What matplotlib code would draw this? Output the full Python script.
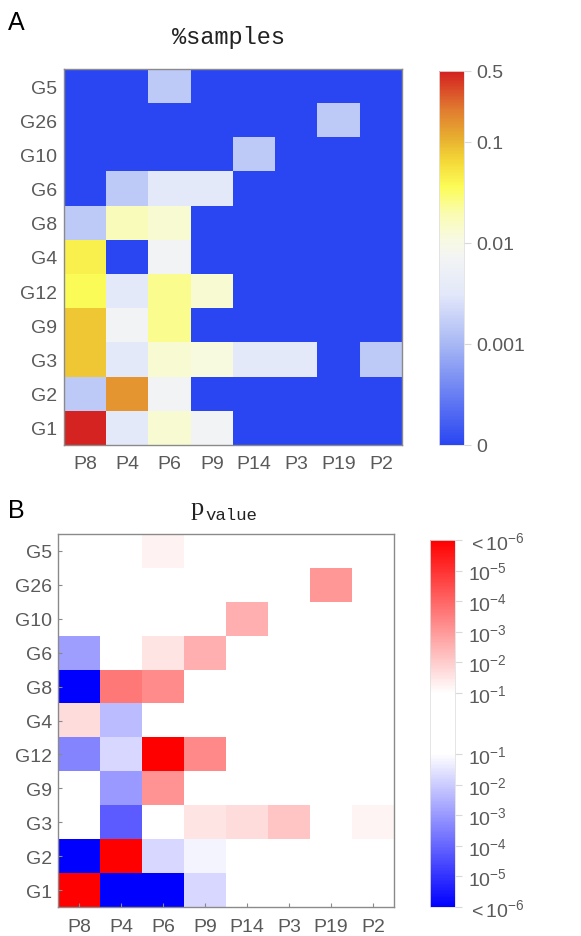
import numpy as np
import matplotlib
matplotlib.use("Agg")
import matplotlib.pyplot as plt
from matplotlib.colors import LinearSegmentedColormap, Normalize

plt.rcParams['font.family'] = ['Liberation Sans', 'DejaVu Sans']
plt.rcParams['mathtext.fontset'] = 'custom'
plt.rcParams['mathtext.rm'] = 'Liberation Sans'
plt.rcParams['mathtext.it'] = 'Liberation Sans'

## data
groups = ['G5', 'G26', 'G10', 'G6', 'G8', 'G4', 'G12', 'G9', 'G3', 'G2', 'G1']
patients = ['P8', 'P4', 'P6', 'P9', 'P14', 'P3', 'P19', 'P2']

# fraction of samples (rows top -> bottom)
pct_samples = [
    [0,      0,      0.0015, 0,      0,      0,      0,      0],
    [0,      0,      0,      0,      0,      0,      0.0015, 0],
    [0,      0,      0,      0,      0.0015, 0,      0,      0],
    [0,      0.0015, 0.0035, 0.0035, 0,      0,      0,      0],
    [0.0015, 0.017,  0.013,  0,      0,      0,      0,      0],
    [0.043,  0,      0.007,  0,      0,      0,      0,      0],
    [0.035,  0.0035, 0.025,  0.013,  0,      0,      0,      0],
    [0.078,  0.007,  0.025,  0,      0,      0,      0,      0],
    [0.078,  0.0035, 0.013,  0.011,  0.0035, 0.0035, 0,      0.0015],
    [0.0015, 0.15,   0.007,  0,      0,      0,      0,      0],
    [0.48,   0.0035, 0.013,  0.007,  0,      0,      0,      0],
]

# signed -log10(p): + enriched (red), - depleted (blue), capped at 6
p_score = [
    [0,    0,    1.25, 0,    0,    0,    0,    0],
    [0,    0,    0,    0,    0,    0,    3.0,  0],
    [0,    0,    0,    0,    2.55, 0,    0,    0],
    [-2.9, 0,    1.5,  2.55, 0,    0,    0,    0],
    [-6,   3.65, 3.25, 0,    0,    0,    0,    0],
    [1.65, -2.3, 0,    0,    0,    0,    0,    0],
    [-3.4, -1.75, 6,   3.3,  0,    0,    0,    0],
    [0,    -3.0, 3.1,  0,    0,    0,    0,    0],
    [0,    -4.2, 0,    1.5,  1.65, 2.15, 0,    1.2],
    [-6,   6,    -1.75, -1.2, 0,   0,    0,    0],
    [6,    -6,   -6,   -1.75, 0,   0,    0,    0],
]

cb_a_ticks = [0, 0.001, 0.01, 0.1, 0.5]
cb_a_labels = ['0', '0.001', '0.01', '0.1', '0.5']
cb_b_ticks = [-6, -5, -4, -3, -2, -1, 1, 2, 3, 4, 5, 6]
cb_b_labels = [r'$<10^{-6}$', r'$10^{-5}$', r'$10^{-4}$', r'$10^{-3}$', r'$10^{-2}$', r'$10^{-1}$',
               r'$10^{-1}$', r'$10^{-2}$', r'$10^{-3}$', r'$10^{-4}$', r'$10^{-5}$', r'$<10^{-6}$']

## colormaps
floor = 1e-4
cmap_a = LinearSegmentedColormap.from_list('samples', [
    (0.00, '#2a46f2'), (0.27, '#a8b8f4'), (0.40, '#e2e7fa'), (0.50, '#f2f4f4'),
    (0.55, '#f8fae2'), (0.62, '#fafcb0'), (0.69, '#fcfc58'), (0.76, '#f4d838'),
    (0.82, '#e8b030'), (0.90, '#e07a30'), (1.00, '#d42020')])
cmap_b = LinearSegmentedColormap.from_list('pval', [
    (0.0, '#0000ff'), (5 / 12, '#ffffff'), (7 / 12, '#ffffff'), (1.0, '#ff0000')])

def to_log(v):
    return np.log10(np.maximum(np.asarray(v, dtype=float), floor))

W, H = 581, 937
fig = plt.figure(figsize=(W / 100, H / 100), dpi=100)
fig.patch.set_facecolor('white')
lab_col = '#5a5a5a'
frame_col = '#8a8a8a'

def style_heat(ax, ticklen, xpad, ypad):
    ax.set_xticks(range(len(patients)))
    ax.set_xticklabels(patients)
    ax.set_yticks(range(len(groups)))
    ax.set_yticklabels(groups)
    ax.tick_params(direction='in', length=ticklen, color=frame_col, labelcolor=lab_col,
                   labelsize=14)
    ax.tick_params(axis='x', pad=xpad)
    ax.tick_params(axis='y', pad=ypad)
    for s in ax.spines.values():
        s.set_edgecolor(frame_col)
        s.set_linewidth(1.0)

def style_cbar(cb):
    cb.outline.set_edgecolor('#e0e0e0')
    cb.outline.set_linewidth(0.6)
    cb.ax.tick_params(length=5, width=0.8, color='#d8d8d8', labelcolor=lab_col,
                      labelsize=14, pad=4)

## panel A
ax_a = fig.add_axes([64 / W, 1 - 446 / H, 338 / W, 376 / H])
norm_a = Normalize(vmin=np.log10(floor), vmax=np.log10(0.5))
im_a = ax_a.imshow(to_log(pct_samples), cmap=cmap_a, norm=norm_a, aspect='auto',
                   interpolation='nearest')
style_heat(ax_a, 0, 7, 5)
cax_a = fig.add_axes([439 / W, 1 - 446 / H, 25 / W, 374 / H])
cb_a = fig.colorbar(im_a, cax=cax_a)
cb_a.set_ticks(to_log(cb_a_ticks))
cb_a.set_ticklabels(cb_a_labels)
style_cbar(cb_a)
fig.text(229 / W, 1 - 44 / H, '%samples', ha='center', va='baseline',
         family='Liberation Mono', fontsize=17, color='#222222')
fig.text(8 / W, 1 - 30 / H, 'A', ha='left', va='baseline', fontsize=18, color='black')

## panel B
ax_b = fig.add_axes([58 / W, 1 - 908 / H, 336 / W, 373 / H])
norm_b = Normalize(vmin=-6, vmax=6)
im_b = ax_b.imshow(np.array(p_score), cmap=cmap_b, norm=norm_b, aspect='auto',
                   interpolation='nearest')
style_heat(ax_b, 3, 8, 4)
cax_b = fig.add_axes([430 / W, 1 - 908 / H, 25 / W, 367 / H])
cb_b = fig.colorbar(im_b, cax=cax_b)
cb_b.set_ticks(cb_b_ticks)
cb_b.set_ticklabels(cb_b_labels)
style_cbar(cb_b)
fig.text(204 / W, 1 - 515 / H, 'p', ha='right', va='baseline',
         family='Liberation Serif', fontsize=19, color='#222222')
fig.text(205 / W, 1 - 520 / H, 'value', ha='left', va='baseline',
         family='Liberation Mono', fontsize=12.5, color='#222222')
fig.text(8 / W, 1 - 518 / H, 'B', ha='left', va='baseline', fontsize=18, color='black')

fig.savefig('out.png', dpi=100, facecolor='white')
